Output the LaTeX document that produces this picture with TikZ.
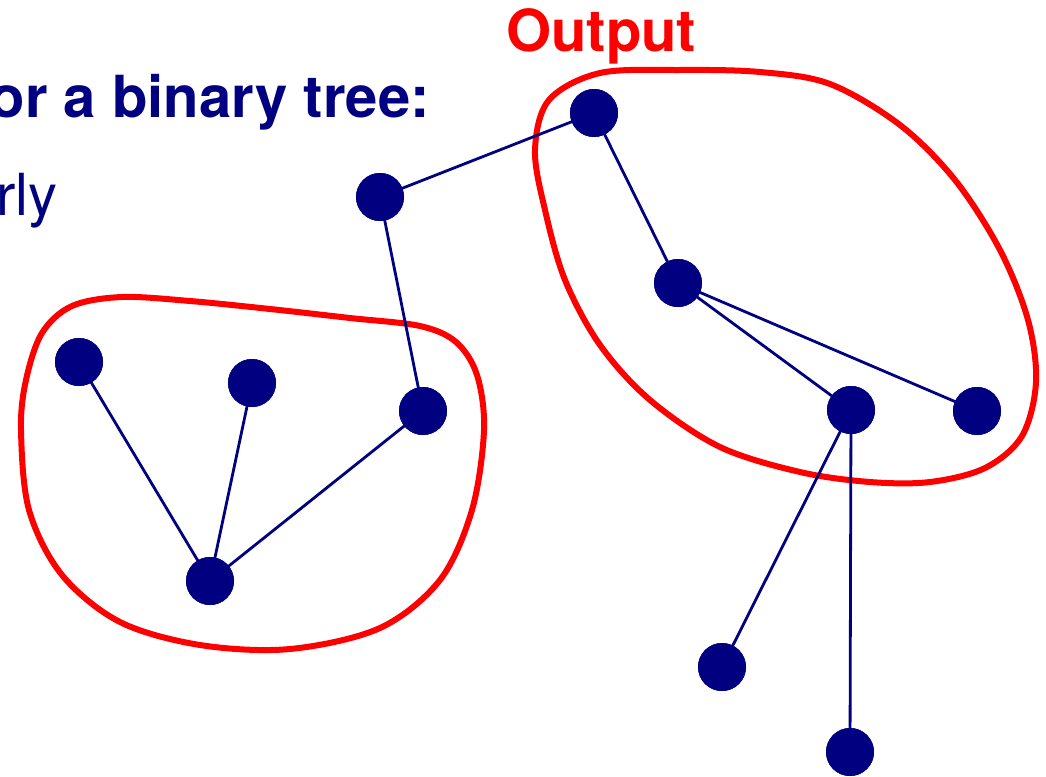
\documentclass[tikz,border=0pt]{standalone}
\usepackage{fontspec}
\setmainfont{TeX Gyre Heros}
\definecolor{navy}{RGB}{0,0,128}
\definecolor{pred}{RGB}{255,0,0}
\begin{document}
\begin{tikzpicture}[x=1pt,y=-1pt,
  dot/.style={circle,fill=navy,draw=none,minimum size=48pt,inner sep=0pt},
  edge/.style={draw=navy,line width=2.8pt},
  blob/.style={draw=pred,line width=6pt,line join=round},
  lbl/.style={inner sep=0pt,font=\fontsize{58}{66}\selectfont}]
\useasboundingbox (0,0) rectangle (1046,776);
% red outlines
\draw[blob] plot[smooth cycle,tension=0.55] coordinates {
 (21,430) (29,510) (62,575) (120,622) (200,645) (290,649) (380,628) (440,580) (472,510) (484,430) (477,375) (456,342) (420,326) (350,318) (270,309) (190,301) (122,297) (72,306) (42,333) (26,380) };
\draw[blob] plot[smooth cycle,tension=0.55] coordinates {
 (600,73) (680,70) (760,72) (830,84) (900,125) (955,180) (1000,250) (1028,320) (1036,382) (1022,436) (985,468) (930,482) (870,482) (800,472) (720,447) (650,400) (600,345) (565,280) (545,210) (535,150) (549,100) };
% nodes
\node[dot] (n1) at (594,113) {};
\node[dot] (n2) at (380,197) {};
\node[dot] (n3) at (678,283) {};
\node[dot] (n4) at (79,362) {};
\node[dot] (n5) at (252,383) {};
\node[dot] (n6) at (423,411) {};
\node[dot] (n7) at (851,410) {};
\node[dot] (n8) at (977,411) {};
\node[dot] (n9) at (210,581) {};
\node[dot] (n10) at (722,667) {};
\node[dot] (n11) at (850,752) {};
% edges
\draw[edge] (n1.center) -- (n2.center);
\draw[edge] (n2.center) -- (n6.center);
\draw[edge] (n1.center) -- (n3.center);
\draw[edge] (n3.center) -- (n7.center);
\draw[edge] (n3.center) -- (n8.center);
\draw[edge] (n7.center) -- (n10.center);
\draw[edge] (n7.center) -- (n11.center);
\draw[edge] (n9.center) -- (n4.center);
\draw[edge] (n9.center) -- (n5.center);
\draw[edge] (n9.center) -- (n6.center);
% redraw dots on top
\foreach \n in {n1,n2,n3,n4,n5,n6,n7,n8,n9,n10,n11}{\fill[navy] (\n) circle (24pt);}
% texts
\node[lbl,text=navy,font=\fontsize{58}{66}\selectfont\bfseries,anchor=base east] (t1) at (430,117) {or a binary tree:};
\node[lbl,text=navy,anchor=base west] (t2) at (-4,215) {rly};
\node[lbl,text=pred,font=\fontsize{58}{66}\selectfont\bfseries,anchor=base west] (t3) at (506,52) {Output};
\end{tikzpicture}
\end{document}
